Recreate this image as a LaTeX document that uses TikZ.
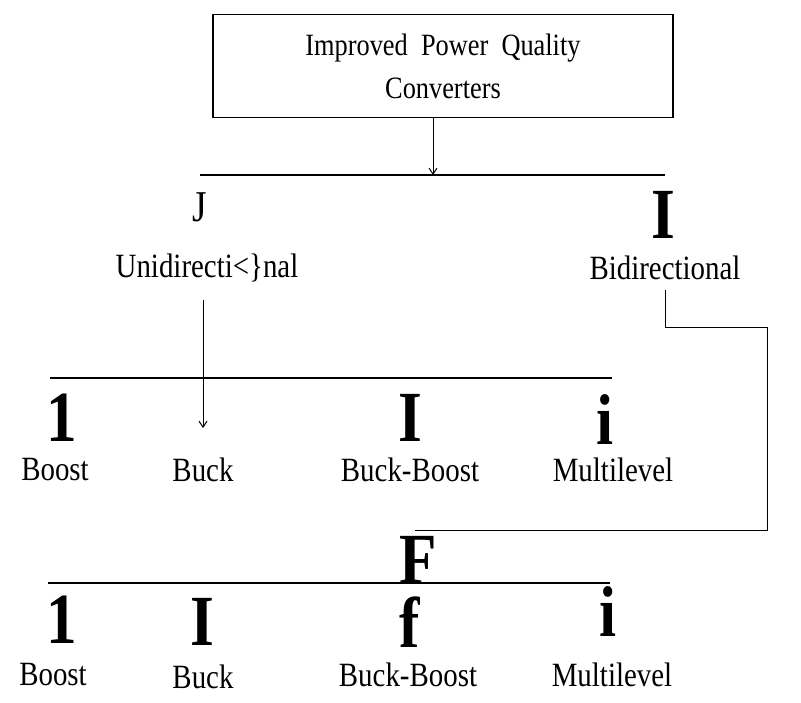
\documentclass[tikz,border=0pt]{standalone}
\usepackage{fontspec}
\setmainfont[FakeStretch=0.85]{Liberation Serif}
\usetikzlibrary{arrows.meta}
\begin{document}
\begin{tikzpicture}[x=1pt,y=-1pt,
  lab/.style={font=\fontsize{34}{36}\selectfont, inner sep=0pt},
  big/.style={font=\fontsize{72}{72}\selectfont\bfseries, inner sep=0pt},
  ln/.style={line width=1.6pt},
  arr/.style={line width=1pt,-{Straight Barb[length=6pt,width=8pt]}}]
\useasboundingbox (0,0) rectangle (801,702);
\node[draw,line width=1.5pt,minimum width=460,minimum height=103,inner sep=0pt,
  align=center,font=\fontsize{31}{43}\selectfont] (top) at (443,66)
  {Improved\ \ Power\ \ Quality\\Converters};
\coordinate (a1) at (433,175);
\draw[arr] (top.south -| a1) -- (a1);
\coordinate (h1l) at (200,175); \coordinate (h1r) at (665,175);
\draw[ln] (h1l) -- (h1r);
\node[font=\fontsize{44}{44}\selectfont, inner sep=0pt] (j) at (200,207) {J};
\node[big] (bi) at (663,215) {I};
\node[lab] (uni) at (207,268) {Unidirecti<\}nal};
\node[lab] (bid) at (665,268) {Bidirectional};
\coordinate (a2s) at (203,300); \coordinate (a2e) at (203,428);
\draw[arr] (a2s) -- (a2e);
\coordinate (h2l) at (50,378); \coordinate (h2r) at (612,378);
\draw[ln] (h2l) -- (h2r);
\coordinate (p0) at (665,290);
\coordinate (p1) at (665,327); \coordinate (p2) at (767,327);
\coordinate (p3) at (767,530); \coordinate (p4) at (415,530);
\draw[line width=1pt] (p0) -- (p1) -- (p2) -- (p3) -- (p4);
\node[big] (g1) at (62,418) {1};
\node[big] (g2) at (410,418) {I};
\node[big] (g3) at (605,420) {i};
\node[lab] (b1) at (55,470) {Boost};
\node[lab] (k1) at (203,470) {Buck};
\node[lab] (bb1) at (410,470) {Buck-Boost};
\node[lab] (m1) at (613,470) {Multilevel};
\coordinate (h3l) at (48,583); \coordinate (h3r) at (610,583);
\draw[ln] (h3l) -- (h3r);
\node[big] (f0) at (418,560) {F};
\node[big] (g4) at (62,620) {1};
\node[big] (g5) at (202,622) {I};
\node[big] (g6) at (410,622) {f};
\node[big] (g7) at (608,612) {i};
\node[lab] (b2) at (53,675) {Boost};
\node[lab] (k2) at (203,677) {Buck};
\node[lab] (bb2) at (408,675) {Buck-Boost};
\node[lab] (m2) at (612,675) {Multilevel};
\end{tikzpicture}
\end{document}
